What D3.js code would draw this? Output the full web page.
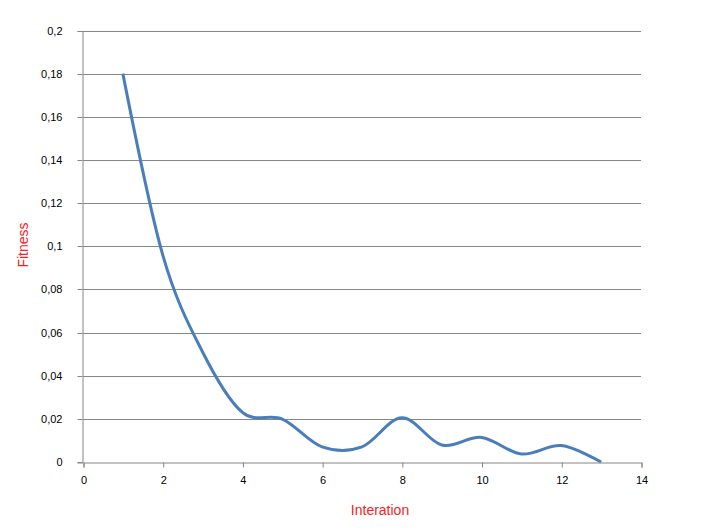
<!DOCTYPE html>
<html>
<head>
<meta charset="utf-8">
<script src="https://d3js.org/d3.v7.min.js"></script>
<style>
  body { margin: 0; background: #fff; }
  svg text { font-family: "Liberation Sans", Arial, sans-serif; }
</style>
</head>
<body>
<svg width="704" height="528"></svg>
<script>
// data
var iterations = [1, 2, 3, 4, 5, 6, 7, 8, 9, 10, 11, 12, 13];
var fitness = [0.18, 0.096, 0.051, 0.023, 0.0199, 0.007, 0.007, 0.0205, 0.0079, 0.0114, 0.0037, 0.0076, 0];
var xTicks = [0, 2, 4, 6, 8, 10, 12, 14];
var yTicks = [0, 0.02, 0.04, 0.06, 0.08, 0.1, 0.12, 0.14, 0.16, 0.18, 0.2];

var svg = d3.select("svg");
var plotLeft = 83, plotRight = 641, plotTop = 30.5, plotBottom = 462;
var grey = "#868686";

var x = d3.scaleLinear().domain([0, 14]).range([plotLeft, plotRight]);
var y = d3.scaleLinear().domain([0, 0.2]).range([plotBottom, plotTop]);

// number format with comma decimals
var fmt = function (d) { return String(+d.toFixed(2)).replace(".", ","); };

// gridlines
svg.append("g")
    .selectAll("line")
    .data(yTicks.filter(function (d) { return d > 0; }))
    .enter().append("line")
    .attr("x1", plotLeft).attr("x2", plotRight)
    .attr("y1", function (d) { return Math.round(y(d)) + 0.5; })
    .attr("y2", function (d) { return Math.round(y(d)) + 0.5; })
    .attr("stroke", grey).attr("stroke-width", 1);

// y axis
var yAxis = svg.append("g")
    .attr("transform", "translate(" + (plotLeft - 0.5) + ",0.5)")
    .call(d3.axisLeft(y).tickValues(yTicks).tickFormat(fmt).tickSize(5).tickPadding(15));
yAxis.select(".domain").attr("stroke", grey);
yAxis.selectAll(".tick line").attr("stroke", grey);
yAxis.selectAll(".tick text").attr("font-size", "11px").attr("fill", "#000");
yAxis.selectAll(".tick").attr("transform", function (d) { return "translate(0," + Math.round(y(d)) + ")"; });

// x axis
var xAxis = svg.append("g")
    .attr("transform", "translate(0.5," + (plotBottom + 0.5) + ")")
    .call(d3.axisBottom(x).tickValues(xTicks).tickFormat(fmt).tickSize(5).tickPadding(9));
xAxis.select(".domain").attr("stroke", grey);
xAxis.selectAll(".tick line").attr("stroke", grey);
xAxis.selectAll(".tick text").attr("font-size", "11px").attr("fill", "#000");

// smoothed line, similar to Excel smoothing
var line = d3.line()
    .x(function (d, i) { return x(iterations[i]); })
    .y(function (d) { return y(d); })
    .curve(d3.curveCardinal.tension(0));

svg.append("path")
    .datum(fitness)
    .attr("d", line)
    .attr("fill", "none")
    .attr("stroke", "#4a7ebb")
    .attr("stroke-width", 3)
    .attr("stroke-linejoin", "round");

// axis titles
svg.append("text")
    .attr("x", 380).attr("y", 515)
    .attr("text-anchor", "middle")
    .attr("font-size", "14px")
    .attr("fill", "#f5221b")
    .text("Interation");

svg.append("text")
    .attr("transform", "translate(28,245) rotate(-90)")
    .attr("text-anchor", "middle")
    .attr("font-size", "14px")
    .attr("fill", "#f5221b")
    .text("Fitness");
</script>
</body>
</html>
